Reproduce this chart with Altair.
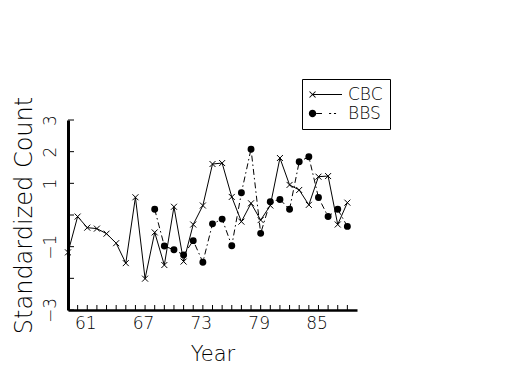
import altair as alt
import pandas as pd

# ---- data ----
years_cbc = list(range(59, 89))
cbc_values = [-1.18, -0.05, -0.40, -0.43, -0.59, -0.89, -1.52, 0.56, -2.01, -0.55,
              -1.58, 0.26, -1.47, -0.30, 0.30, 1.61, 1.64, 0.57, -0.21, 0.37,
              -0.16, 0.30, 1.80, 0.95, 0.79, 0.32, 1.21, 1.23, -0.30, 0.39]
years_bbs = list(range(68, 89))
bbs_values = [0.18, -0.98, -1.10, -1.26, -0.81, -1.49, -0.28, -0.13, -0.97, 0.70,
              2.08, -0.58, 0.42, 0.49, 0.18, 1.68, 1.84, 0.55, -0.05, 0.18, -0.36]
series_names = ["CBC", "BBS"]
x_label_years = [61, 67, 73, 79, 85]
x_tick_years = list(range(60, 89))
y_tick_values = [-3, -2, -1, 0, 1, 2, 3]

cbc_df = pd.DataFrame({"year": years_cbc, "value": cbc_values, "series": "CBC"})
bbs_df = pd.DataFrame({"year": years_bbs, "value": bbs_values, "series": "BBS"})
ytick_df = pd.DataFrame({"value": y_tick_values})
xtick_df = pd.DataFrame({"year": x_tick_years})
legend_df = pd.DataFrame({"series": series_names})

FONT = "DejaVu Sans"
FW = 200
W, H = 289, 190

x_scale = alt.Scale(domain=[59, 89], nice=False, zero=False)
y_scale = alt.Scale(domain=[-3, 3], nice=False, zero=False)

x_axis = alt.Axis(values=x_label_years, format="d", ticks=False, tickSize=0, grid=False,
                  domainColor="black", domainWidth=2.5, labelFont=FONT, labelFontSize=17,
                  labelFontWeight=FW, labelColor="black", labelPadding=5, labelFlush=False,
                  labelOverlap=False, labelOffset=-2, offset=0,
                  title="Year", titleFont=FONT, titleFontSize=21, titleFontWeight=FW,
                  titleColor="black", titlePadding=12)
y_axis = alt.Axis(values=y_tick_values,
                  labelExpr="(datum.value == 0 || datum.value == -2) ? '' : datum.label",
                  ticks=False, tickSize=0, grid=False, domainColor="black", domainWidth=3,
                  labelAngle=270, labelAlign="center", labelBaseline="alphabetic",
                  labelPadding=13, labelFlush=False, labelOverlap=False, offset=0,
                  labelFont=FONT, labelFontSize=17, labelFontWeight=FW, labelColor="black",
                  title="Standardized Count", titleFont=FONT, titleFontSize=24,
                  titleFontWeight=FW, titleColor="black", titlePadding=5)

X = alt.X("year:Q", scale=x_scale, axis=x_axis)
Y = alt.Y("value:Q", scale=y_scale, axis=y_axis)

cbc_line = alt.Chart(cbc_df).mark_line(color="black", strokeWidth=1).encode(x=X, y=Y)
bbs_line = alt.Chart(bbs_df).mark_line(color="black", strokeWidth=1,
                                       strokeDash=[6, 3, 1.5, 3]).encode(x=X, y=Y)

x_marker = "M-1,-1L1,1M-1,1L1,-1"
cbc_pts = alt.Chart(cbc_df).mark_point(shape=x_marker, filled=False, size=36,
                                       color="black", strokeWidth=1, opacity=1).encode(x=X, y=Y)
bbs_pts = alt.Chart(bbs_df).mark_point(shape="circle", filled=True, size=48,
                                       color="black", opacity=1).encode(x=X, y=Y)

# inward ticks
ytick = alt.Chart(ytick_df).mark_rule(color="black", strokeWidth=1).encode(
    y=Y, x=alt.value(0), x2=alt.value(6))
xtick = alt.Chart(xtick_df).mark_rule(color="black", strokeWidth=1).encode(
    x=X, y=alt.value(H), y2=alt.value(H - 5))

# legend symbols drawn as filled outlines (marker + line style)
cbc_sym = ("M-0.71,-0.07L3.5,-0.07L3.5,0.07L-0.71,0.07Z"
           "M-1.09,-0.48L-0.23,0.38L-0.33,0.48L-1.19,-0.38Z"
           "M-1.09,0.48L-1.19,0.38L-0.33,-0.48L-0.23,-0.38Z")
bbs_sym = ("M-1.24,0A0.53,0.53,0,1,0,-0.18,0A0.53,0.53,0,1,0,-1.24,0Z"
           "M-0.2,-0.07L0.64,-0.07L0.64,0.07L-0.2,0.07Z"
           "M1.65,-0.07L1.95,-0.07L1.95,0.07L1.65,0.07Z"
           "M2.35,-0.07L2.65,-0.07L2.65,0.07L2.35,0.07Z")
legend_layer = alt.Chart(legend_df).transform_filter("false").mark_point(
    filled=True, size=196, fill="black", stroke="black", strokeWidth=1, opacity=1).encode(
    shape=alt.Shape("series:N",
                    scale=alt.Scale(domain=series_names, range=[cbc_sym, bbs_sym]),
                    legend=alt.Legend(title=None, orient="none", legendX=234, legendY=-41,
                                      strokeColor="black", fillColor="white", padding=7,
                                      symbolSize=196, symbolFillColor="black",
                                      symbolStrokeColor="black", symbolStrokeWidth=0.3,
                                      symbolOpacity=1, labelFont=FONT, labelFontSize=17,
                                      labelFontWeight=FW, labelColor="black", labelOffset=22,
                                      rowPadding=1)))

chart = alt.layer(cbc_line, bbs_line, cbc_pts, bbs_pts, ytick, xtick, legend_layer).properties(
    width=W, height=H,
    autosize=alt.AutoSizeParams(type="none"),
    padding={"left": 60, "top": 112, "right": 160, "bottom": 57},
    background="white",
).configure_view(stroke=None)

chart.save("out.html", embed_options={"renderer": "svg", "actions": False})
